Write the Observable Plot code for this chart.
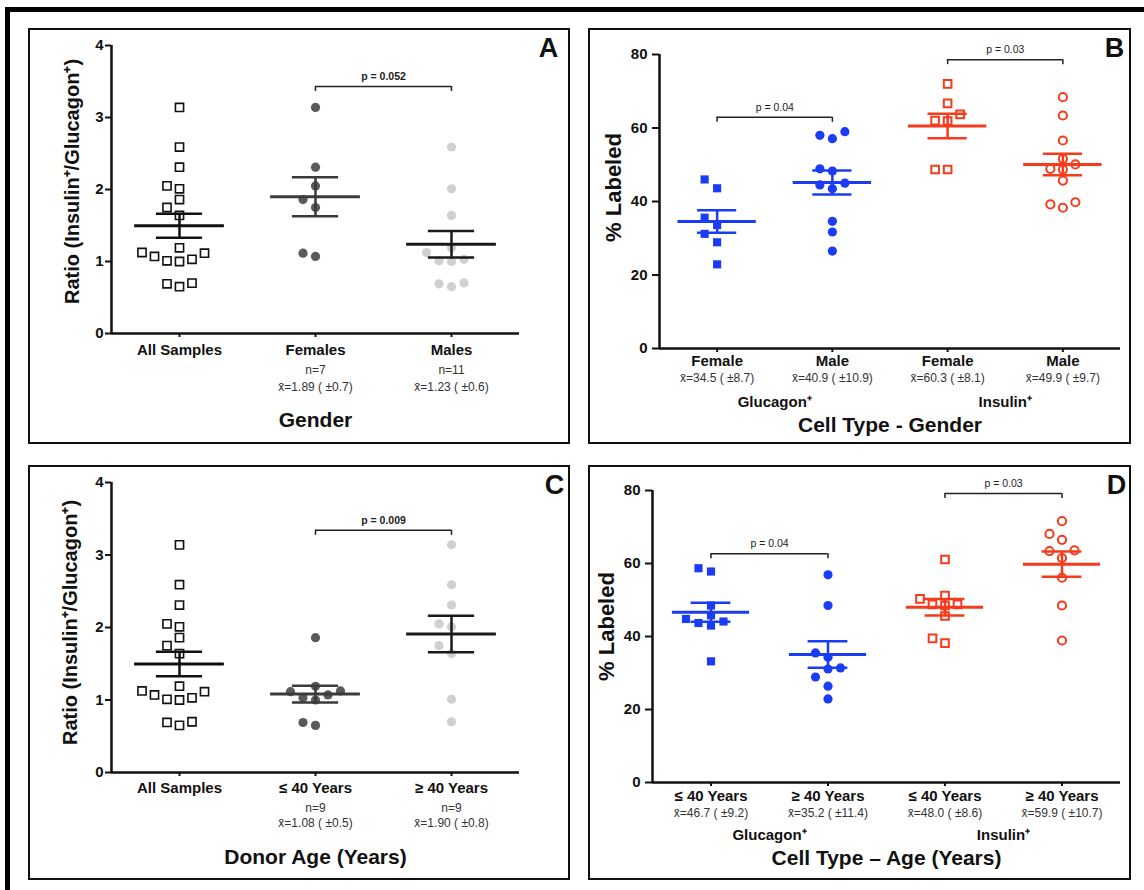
<!DOCTYPE html>
<html>
<head>
<meta charset="utf-8">
<script src="https://cdn.jsdelivr.net/npm/d3@7"></script>
<script src="https://cdn.jsdelivr.net/npm/@observablehq/plot@0.6"></script>
<style>
  body { margin: 0; background: #fff; }
  #page { position: relative; width: 1144px; height: 890px; overflow: hidden; background: #fff;
          font-family: "Liberation Sans", Arial, Helvetica, sans-serif; }
  .frameTop { position: absolute; left: 5px; top: 7px; width: 1139px; height: 5px; background: #000; }
  .frameLeft { position: absolute; left: 5px; top: 7px; width: 5px; height: 883px; background: #000; }
  .panel { position: absolute; box-sizing: border-box; border: 2px solid #111; background: #fff; }
  .panel svg { display: block; }
</style>
</head>
<body>
<div id="page">
  <div class="frameTop"></div>
  <div class="frameLeft"></div>
  <div class="panel" id="pA" style="left:28px;top:28px;width:542px;height:416px"></div>
  <div class="panel" id="pB" style="left:588px;top:28px;width:543px;height:416px"></div>
  <div class="panel" id="pC" style="left:28px;top:465px;width:542px;height:415px"></div>
  <div class="panel" id="pD" style="left:588px;top:465px;width:543px;height:415px"></div>
</div>
<script>
// ---------------- DATA ----------------
// Ratio (Insulin+/Glucagon+) per donor
const allSamples = [3.14, 2.59, 2.31, 2.05, 2.01, 1.86, 1.75, 1.64, 1.19, 1.125, 1.07, 1.01, 1.00, 1.03, 1.115, 0.70, 0.65, 0.69];
const females    = [3.14, 2.31, 2.05, 1.86, 1.75, 1.07, 1.115];
const males      = [2.59, 2.01, 1.64, 1.19, 1.125, 1.01, 1.00, 1.03, 0.70, 0.65, 0.69];
const under40    = [1.86, 1.19, 1.125, 1.115, 1.07, 1.03, 1.00, 0.65, 0.69];
const over40     = [3.14, 2.59, 2.31, 2.05, 2.01, 1.75, 1.64, 1.01, 0.70];

// % Labeled, by gender
const glucFemale = [46.0, 43.6, 35.6, 33.6, 31.2, 28.9, 22.9];
const glucMale   = [59.0, 58.0, 57.1, 48.9, 48.3, 45.0, 44.5, 43.5, 34.6, 31.7, 26.5];
const insFemale  = [72.0, 66.7, 63.7, 62.0, 61.9, 48.7, 48.7];
const insMale    = [68.4, 63.4, 56.6, 51.6, 50.1, 48.9, 48.7, 45.7, 39.8, 39.2, 38.3];

// % Labeled, by age
const glucU40 = [58.7, 57.8, 48.5, 45.8, 44.8, 44.1, 43.7, 43.0, 33.2];
const glucO40 = [56.9, 48.5, 35.5, 34.3, 31.4, 31.1, 28.9, 26.4, 22.9];
const insU40  = [61.1, 51.2, 50.3, 48.8, 48.8, 48.5, 45.6, 39.5, 38.2];
const insO40  = [71.6, 68.1, 66.5, 63.6, 63.4, 61.5, 56.1, 48.5, 38.9];

// tick labels / categories / annotations
const ratioTicks = [0, 1, 2, 3, 4];
const pctTicks = [0, 20, 40, 60, 80];

const catsA = ["All Samples", "Females", "Males"];
const nLabelsA = ["", "n=7", "n=11"];
const meanLabelsA = ["", "x̄=1.89 ( ±0.7)", "x̄=1.23 ( ±0.6)"];
const pFromA = [1], pToA = [2], pYA = [3.43], pTextA = ["p = 0.052"];

const catsC = ["All Samples", "≤ 40 Years", "≥ 40 Years"];
const nLabelsC = ["", "n=9", "n=9"];
const meanLabelsC = ["", "x̄=1.08 ( ±0.5)", "x̄=1.90 ( ±0.8)"];
const pFromC = [1], pToC = [2], pYC = [3.34], pTextC = ["p = 0.009"];

const groupLabels = ["Glucagon⁺", "Insulin⁺"];

const catsB = ["Female", "Male", "Female", "Male"];
const meanLabelsB = ["x̄=34.5 ( ±8.7)", "x̄=40.9 ( ±10.9)", "x̄=60.3 ( ±8.1)", "x̄=49.9 ( ±9.7)"];
const pFromB = [0, 2], pToB = [1, 3], pYB = [62.9, 78.6], pTextB = ["p = 0.04", "p = 0.03"];

const catsD = ["≤ 40 Years", "≥ 40 Years", "≤ 40 Years", "≥ 40 Years"];
const meanLabelsD = ["x̄=46.7 ( ±9.2)", "x̄=35.2 ( ±11.4)", "x̄=48.0 ( ±8.6)", "x̄=59.9 ( ±10.7)"];
const pFromD = [0, 2], pToD = [1, 3], pYD = [62.7, 79.2], pTextD = ["p = 0.04", "p = 0.03"];

// ---------------- STYLES ----------------
const FONT = '"Liberation Sans", Arial, Helvetica, sans-serif';
const BLUE = "#1a3cf5", RED = "#f73a1c";
const SWARM_STEP = 6.25, SWARM_W = 12.5, SWARM_H = 9.5;

function panel(c) {
  const n = c.cats.length;
  const idx = d3.range(n);
  const yMax = d3.max(c.yTicks);
  const pxX = (c.W - c.ml - c.mr) / n;
  const pxY = (c.H - c.mt - c.mb) / yMax;
  const groups = [], stats = [];
  for (const s of c.series) {
    const placed = [], data = [];
    for (const v of [...s.values].sort((a, b) => a - b)) {
      const py = v * pxY;
      let off = 0;
      for (let k = 0; k < 80; k++) {
        const cand = (k === 0 ? 0 : (k % 2 ? -1 : 1) * Math.ceil(k / 2)) * SWARM_STEP;
        if (placed.every(p => Math.abs(p.x - cand) > SWARM_W - 0.01 || Math.abs(p.y - py) >= SWARM_H)) { off = cand; break; }
      }
      placed.push({x: off, y: py});
      data.push({x: s.cat + off / pxX, y: v});
    }
    groups.push({s, data});
    const m = d3.mean(s.values);
    const se = d3.deviation(s.values) / Math.sqrt(s.values.length);
    stats.push({cat: s.cat, mean: m, lo: m - se, hi: m + se, color: s.line});
  }
  const br = c.pFrom.map((f, i) => ({from: f, to: c.pTo[i], y: c.pY[i], text: c.pText[i]}));
  const brEnds = br.flatMap(b => [{x: b.from, y: b.y}, {x: b.to, y: b.y}]);
  const drop = 5 / pxY;
  const MEAN = c.meanHalf, CAP = 0.17;

  const marks = [
    Plot.axisY({ticks: c.yTicks, tickFormat: d3.format("d"), tickSize: c.yTickSize, tickPadding: c.yTickPad,
                strokeWidth: 2, fontSize: 15, fontWeight: "bold", fill: "#111", label: null}),
    Plot.axisX({ticks: idx, tickFormat: i => c.cats[i], tickSize: 4, tickPadding: c.xTickPad,
                lineAnchor: "middle", strokeWidth: 2, fontSize: 15, fontWeight: "bold", fill: "#111", label: null}),
    Plot.ruleX([-0.5], {y1: 0, y2: yMax, stroke: "#111", strokeWidth: 2.5}),
    Plot.ruleY([0], {x1: -0.5, x2: n - 0.5, stroke: "#111", strokeWidth: 2.5}),
    ...groups.map(({s, data}) => Plot.dot(data, {x: "x", y: "y", symbol: s.symbol, r: s.r,
                fill: s.fill, stroke: s.stroke, strokeWidth: s.sw})),
    Plot.ruleX(stats, {x: "cat", y1: "lo", y2: "hi", stroke: "color", strokeWidth: 2.5}),
    Plot.ruleY(stats, {y: "hi", x1: d => d.cat - CAP, x2: d => d.cat + CAP, stroke: "color", strokeWidth: 2.5}),
    Plot.ruleY(stats, {y: "lo", x1: d => d.cat - CAP, x2: d => d.cat + CAP, stroke: "color", strokeWidth: 2.5}),
    Plot.ruleY(stats, {y: "mean", x1: d => d.cat - MEAN, x2: d => d.cat + MEAN, stroke: "color", strokeWidth: 3}),
    Plot.ruleY(br, {y: "y", x1: "from", x2: "to", stroke: "#222", strokeWidth: 1.5}),
    Plot.ruleX(brEnds, {x: "x", y1: "y", y2: d => d.y - drop, stroke: "#222", strokeWidth: 1.5}),
    Plot.text(br, {x: d => (d.from + d.to) / 2, y: "y", text: "text", dy: -10, fontSize: 10.5,
                   fontWeight: c.pBold ? "bold" : "normal", fill: "#222"}),
    ...c.subs.map(row => Plot.text(idx, {x: d => d, y: 0, text: d => row.labels[d], dy: row.dy,
                   fontSize: 12, fill: "#333"})),
    Plot.text([c.xTitle], {frameAnchor: "bottom", dy: c.titleDy, fontSize: 21, fontWeight: "bold",
                   fill: "#111", lineAnchor: "middle"}),
    Plot.text([c.yTitle], {frameAnchor: "left", rotate: -90, dx: c.yTitleDx, dy: c.yTitleDy,
                   fontSize: c.yTitleSize, fontWeight: "bold", fill: "#111", textAnchor: "middle", lineAnchor: "middle"}),
    Plot.text([c.letter], {frameAnchor: "top-right", dx: c.letterDx, dy: c.letterDy, fontSize: 27,
                   fontWeight: "bold", fill: "#111", textAnchor: "middle", lineAnchor: "middle"})
  ];
  if (c.groups) {
    marks.push(Plot.text(c.groups, {x: (d, i) => 2 * i + 0.5, y: 0, dy: c.groupDy, fontSize: 15,
                   fontWeight: "bold", fill: "#111"}));
  }
  return Plot.plot({
    width: c.W, height: c.H,
    marginLeft: c.ml, marginRight: c.mr, marginTop: c.mt, marginBottom: c.mb,
    x: {type: "linear", domain: [-0.5, n - 0.5], axis: null},
    y: {type: "linear", domain: [0, yMax], axis: null},
    color: {type: "identity"},
    style: {fontFamily: FONT, background: "white", overflow: "visible", color: "#111"},
    marks
  });
}

const openSq = {symbol: "square", r: 4.6, fill: "white", stroke: "#111", sw: 1.6};
const darkDot = {symbol: "circle", r: 4.6, fill: "#5a5a5a", stroke: "none", sw: 0};
const lightDot = {symbol: "circle", r: 4.6, fill: "#d0d0d0", stroke: "none", sw: 0};
const blueSq = {symbol: "square", r: 4.6, fill: BLUE, stroke: "none", sw: 0, line: BLUE};
const blueDot = {symbol: "circle", r: 4.6, fill: BLUE, stroke: "none", sw: 0, line: BLUE};
const redSq = {symbol: "square", r: 4.3, fill: "white", stroke: RED, sw: 2, line: RED};
const redDot = {symbol: "circle", r: 4.1, fill: "white", stroke: RED, sw: 2, line: RED};

document.getElementById("pA").appendChild(panel({
  W: 538, H: 412, ml: 81, mr: 49, mt: 15, mb: 109,
  yTicks: ratioTicks, yTickSize: 6, yTickPad: 2, xTickPad: 13,
  cats: catsA,
  subs: [{labels: nLabelsA, dy: 37}, {labels: meanLabelsA, dy: 54}],
  xTitle: "Gender", titleDy: 87,
  yTitle: "Ratio (Insulin⁺/Glucagon⁺)", yTitleSize: 20, yTitleDx: -39, yTitleDy: -8,
  letter: "A", letterDx: 29, letterDy: 3,
  meanHalf: 0.33, pBold: true,
  pFrom: pFromA, pTo: pToA, pY: pYA, pText: pTextA,
  series: [
    {cat: 0, values: allSamples, ...openSq, line: "#111"},
    {cat: 1, values: females, ...darkDot, line: "#3a3a3a"},
    {cat: 2, values: males, ...lightDot, line: "#1a1a1a"}
  ]
}));

document.getElementById("pC").appendChild(panel({
  W: 538, H: 411, ml: 81, mr: 49, mt: 15, mb: 106,
  yTicks: ratioTicks, yTickSize: 6, yTickPad: 2, xTickPad: 12,
  cats: catsC,
  subs: [{labels: nLabelsC, dy: 36}, {labels: meanLabelsC, dy: 51}],
  xTitle: "Donor Age (Years)", titleDy: 85,
  yTitle: "Ratio (Insulin⁺/Glucagon⁺)", yTitleSize: 20, yTitleDx: -41, yTitleDy: -5,
  letter: "C", letterDx: 35, letterDy: 3,
  meanHalf: 0.33, pBold: true,
  pFrom: pFromC, pTo: pToC, pY: pYC, pText: pTextC,
  series: [
    {cat: 0, values: allSamples, ...openSq, line: "#111"},
    {cat: 1, values: under40, ...darkDot, line: "#3a3a3a"},
    {cat: 2, values: over40, ...lightDot, line: "#1a1a1a"}
  ]
}));

document.getElementById("pB").appendChild(panel({
  W: 539, H: 412, ml: 69, mr: 9, mt: 24, mb: 94,
  yTicks: pctTicks, yTickSize: 7, yTickPad: 5, xTickPad: 9,
  cats: catsB,
  subs: [{labels: meanLabelsB, dy: 30}],
  groups: groupLabels, groupDy: 54,
  xTitle: "Cell Type - Gender", titleDy: 77,
  yTitle: "% Labeled", yTitleSize: 22, yTitleDx: -46, yTitleDy: -14,
  letter: "B", letterDx: -6, letterDy: -6,
  meanHalf: 0.34, pBold: false,
  pFrom: pFromB, pTo: pToB, pY: pYB, pText: pTextB,
  series: [
    {cat: 0, values: glucFemale, ...blueSq},
    {cat: 1, values: glucMale, ...blueDot},
    {cat: 2, values: insFemale, ...redSq},
    {cat: 3, values: insMale, ...redDot}
  ]
}));

document.getElementById("pD").appendChild(panel({
  W: 539, H: 411, ml: 62, mr: 9, mt: 23, mb: 96,
  yTicks: pctTicks, yTickSize: 7, yTickPad: 5, xTickPad: 10,
  cats: catsD,
  subs: [{labels: meanLabelsD, dy: 31}],
  groups: groupLabels, groupDy: 53,
  xTitle: "Cell Type – Age (Years)", titleDy: 76,
  yTitle: "% Labeled", yTitleSize: 22, yTitleDx: -46, yTitleDy: -10,
  letter: "D", letterDx: -4, letterDy: -5,
  meanHalf: 0.33, pBold: false,
  pFrom: pFromD, pTo: pToD, pY: pYD, pText: pTextD,
  series: [
    {cat: 0, values: glucU40, ...blueSq},
    {cat: 1, values: glucO40, ...blueDot},
    {cat: 2, values: insU40, ...redSq},
    {cat: 3, values: insO40, ...redDot}
  ]
}));
</script>
</body>
</html>
